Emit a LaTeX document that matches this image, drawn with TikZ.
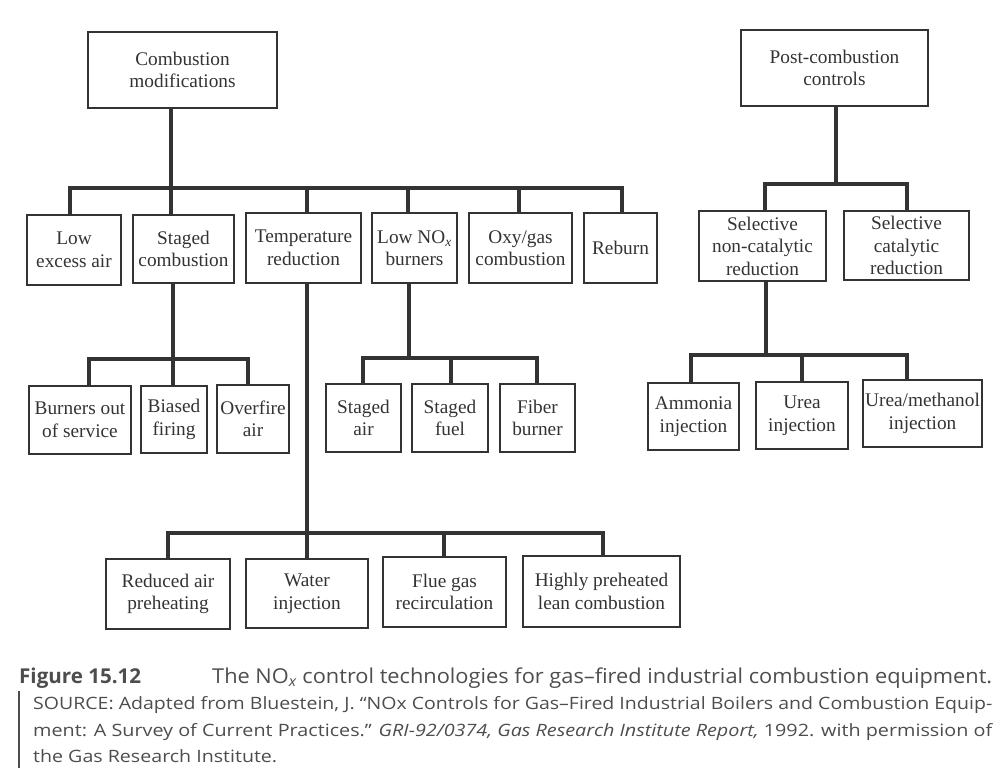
\documentclass[tikz,border=0pt]{standalone}
\usepackage{fontspec}
\setmainfont{Liberation Serif}
\newfontfamily\capfont{Open Sans}
\usepackage{graphicx}
\definecolor{ink}{HTML}{333333}
\definecolor{capink}{HTML}{4D4D4D}
\begin{document}
\begin{tikzpicture}[x=1pt,y=-1pt,
  bx/.style={draw=ink, line width=1.1pt, inner sep=0pt, align=center, text=ink,
    font=\fontsize{19.3}{22.5}\selectfont},
  conn/.style={draw=ink, line width=3.8pt, line join=miter},
  captxt/.style={anchor=base west, inner sep=0pt, text=capink}]
\useasboundingbox (0,0) rectangle (1000,776);

% top level
\node[bx, minimum width=189pt, minimum height=76pt] (cm) at (182.5,70) {Combustion\\modifications};
\node[bx, minimum width=187pt, minimum height=76pt] (pc) at (834.5,68) {Post-combustion\\controls};

% level 1
\node[bx, minimum width=94pt, minimum height=70pt] (lea) at (74,250) {Low\\excess air};
\node[bx, minimum width=101pt, minimum height=68pt] (sc) at (183.5,249) {Staged\\combustion};
\node[bx, minimum width=115pt, minimum height=70pt] (tr) at (303.5,248) {Temperature\\reduction};
\node[bx, minimum width=85pt, minimum height=70pt] (ln) at (414.5,248) {Low NO\textsubscript{\itshape x}\\burners};
\node[bx, minimum width=103pt, minimum height=70pt] (og) at (520.5,248) {Oxy/gas\\combustion};
\node[bx, minimum width=73pt, minimum height=70pt] (rb) at (620.5,248) {Reburn};
\node[bx, minimum width=127pt, minimum height=70pt] (sn) at (762.5,246) {Selective\\non-catalytic\\reduction};
\node[bx, minimum width=125pt, minimum height=69pt] (scr) at (906.5,245.5) {Selective\\catalytic\\reduction};

% level 2
\node[bx, minimum width=102pt, minimum height=68pt] (bo) at (80,420) {Burners out\\of service};
\node[bx, minimum width=66pt, minimum height=67pt] (bf) at (174,419.5) {Biased\\firing};
\node[bx, minimum width=72pt, minimum height=68pt] (ofa) at (253,419) {Overfire\\air};
\node[bx, minimum width=75pt, minimum height=68pt] (sa) at (363.5,418) {Staged\\air};
\node[bx, minimum width=76pt, minimum height=68pt] (sf) at (450,418) {Staged\\fuel};
\node[bx, minimum width=75pt, minimum height=68pt] (fb) at (537.5,418) {Fiber\\burner};
\node[bx, minimum width=91pt, minimum height=67pt] (am) at (693.5,416.5) {Ammonia\\injection};
\node[bx, minimum width=92pt, minimum height=67pt] (ui) at (802,415.5) {Urea\\injection};
\node[bx, minimum width=119pt, minimum height=67pt] (um) at (922.5,413.5) {Urea/methanol\\injection};

% level 3
\node[bx, minimum width=124pt, minimum height=70pt] (ra) at (168,594) {Reduced air\\preheating};
\node[bx, minimum width=122pt, minimum height=69pt] (wi) at (307,593.5) {Water\\injection};
\node[bx, minimum width=123pt, minimum height=70pt] (fg) at (444.5,592) {Flue gas\\recirculation};
\node[bx, minimum width=157pt, minimum height=71pt] (hp) at (601.5,591.5) {Highly preheated\\lean combustion};

% connectors: combustion modifications
\coordinate (a1) at (70,188);
\coordinate (a2) at (171,188);
\coordinate (a3) at (307,188);
\coordinate (a4) at (408,188);
\coordinate (a5) at (519,188);
\coordinate (a6) at (622,188);
\draw[conn] (cm.south -| a2) -- (a2);
\draw[conn] (a1 |- lea.north) -- (a1) -- (a6) -- (a6 |- rb.north);
\draw[conn] (a2) -- (a2 |- sc.north);
\draw[conn] (a3) -- (a3 |- tr.north);
\draw[conn] (a4) -- (a4 |- ln.north);
\draw[conn] (a5) -- (a5 |- og.north);

% staged combustion
\coordinate (b1) at (89,359);
\coordinate (b2) at (173,359);
\coordinate (b3) at (248,359);
\draw[conn] (sc.south -| b2) -- (b2);
\draw[conn] (b1 |- bo.north) -- (b1) -- (b3) -- (b3 |- ofa.north);
\draw[conn] (b2) -- (b2 |- bf.north);

% low NOx burners
\coordinate (c1) at (363,358);
\coordinate (c2) at (409,358);
\coordinate (c3) at (451,358);
\coordinate (c4) at (537,358);
\draw[conn] (ln.south -| c2) -- (c2);
\draw[conn] (c1 |- sa.north) -- (c1) -- (c4) -- (c4 |- fb.north);
\draw[conn] (c3) -- (c3 |- sf.north);

% temperature reduction
\coordinate (d1) at (168,533);
\coordinate (d2) at (307,533);
\coordinate (d3) at (444,533);
\coordinate (d4) at (603,533);
\draw[conn] (tr.south -| d2) -- (d2);
\draw[conn] (d1 |- ra.north) -- (d1) -- (d4) -- (d4 |- hp.north);
\draw[conn] (d2) -- (d2 |- wi.north);
\draw[conn] (d3) -- (d3 |- fg.north);

% post-combustion
\coordinate (e1) at (765,184);
\coordinate (e2) at (836,184);
\coordinate (e3) at (907,184);
\draw[conn] (pc.south -| e2) -- (e2);
\draw[conn] (e1 |- sn.north) -- (e1) -- (e3) -- (e3 |- scr.north);

% SNCR
\coordinate (f1) at (691,355);
\coordinate (f2) at (766,355);
\coordinate (f3) at (802,355);
\coordinate (f4) at (907,355);
\draw[conn] (sn.south -| f2) -- (f2);
\draw[conn] (f1 |- am.north) -- (f1) -- (f4) -- (f4 |- um.north);
\draw[conn] (f3) -- (f3 |- ui.north);

% caption
\node[captxt, font=\capfont\bfseries\fontsize{20.5}{24}\selectfont] (fig) at (19,683)
  {\resizebox{122pt}{\height}{Figure 15.12}};
\node[captxt, font=\capfont\fontsize{20.5}{24}\selectfont] (cap1) at (212,683)
  {\resizebox{780pt}{\height}{The NO\textsubscript{\itshape x} control technologies for gas–fired industrial combustion equipment.}};
\node[captxt, font=\capfont\fontsize{17}{20}\selectfont] (cap2) at (33,709)
  {\resizebox{959pt}{\height}{SOURCE: Adapted from Bluestein, J. “NOx Controls for Gas–Fired Industrial Boilers and Combustion Equip-}};
\node[captxt, font=\capfont\fontsize{17}{20}\selectfont] (cap3) at (33,736)
  {\resizebox{959pt}{\height}{ment: A Survey of Current Practices.” \textit{GRI-92/0374, Gas Research Institute Report,} 1992. with permission of}};
\node[captxt, font=\capfont\fontsize{17}{20}\selectfont] (cap4) at (33,762)
  {\resizebox{244pt}{\height}{the Gas Research Institute.}};
\coordinate (bar1) at (19,691);
\coordinate (bar2) at (19,768);
\draw[capink, line width=1.4pt] (bar1) -- (bar2);
\end{tikzpicture}
\end{document}
